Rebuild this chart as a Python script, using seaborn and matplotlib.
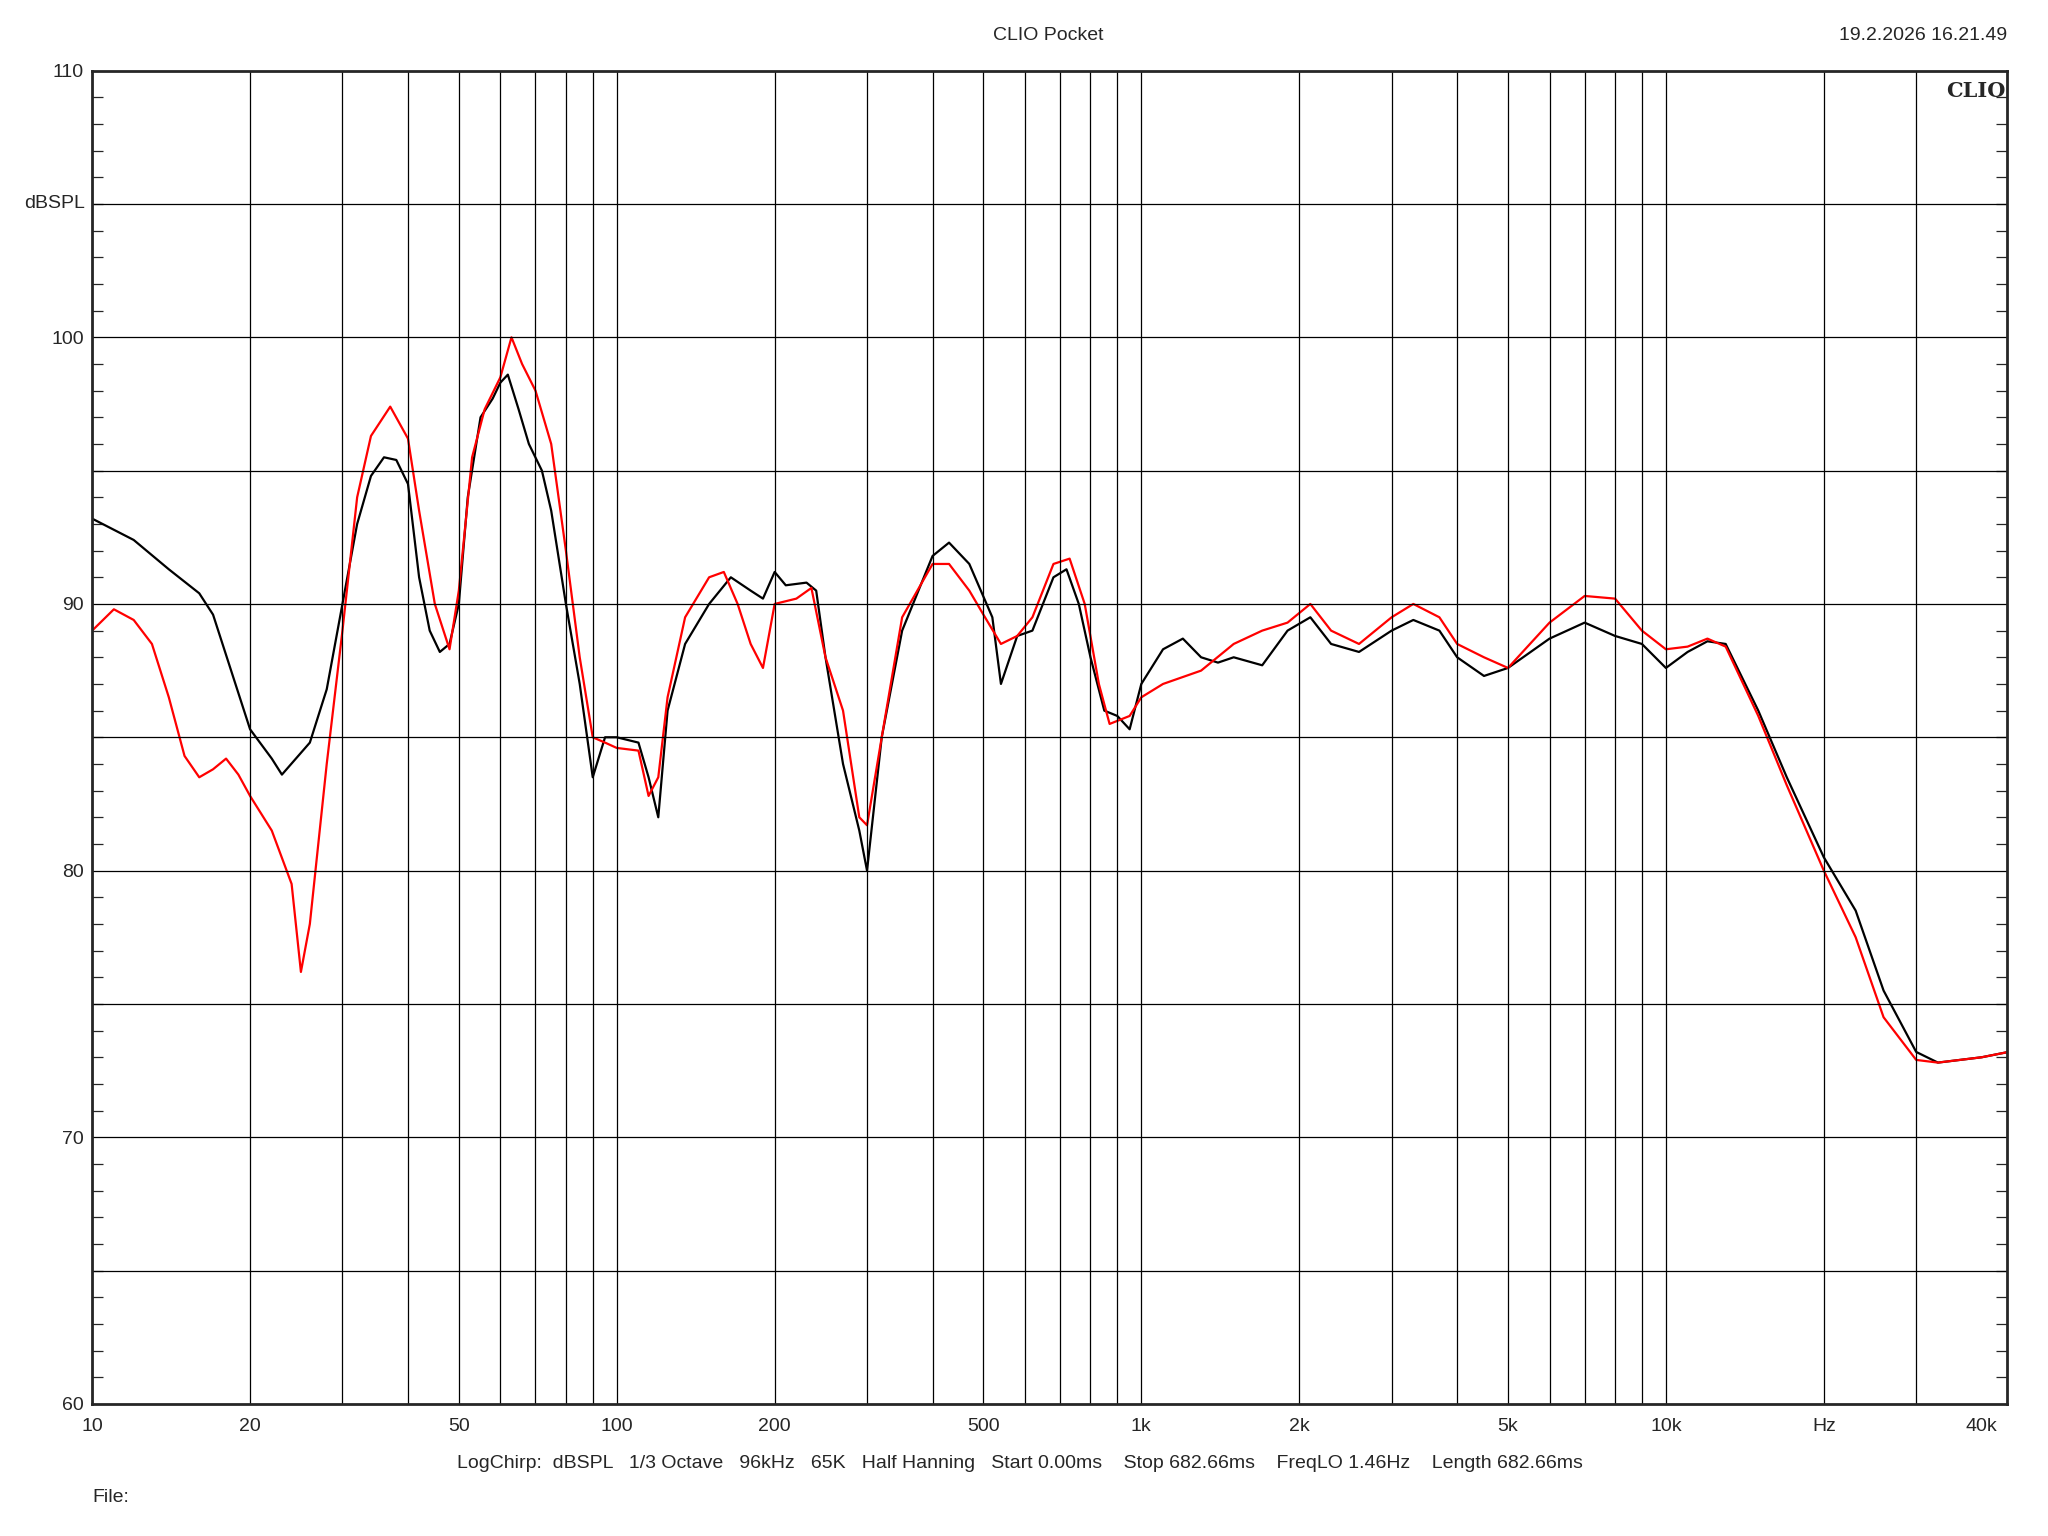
import numpy as np
import matplotlib.pyplot as plt
import seaborn as sns
from matplotlib.ticker import FixedLocator, NullFormatter, MultipleLocator

sns.set_style("white")
plt.rcParams['font.family'] = ['Arial', 'Liberation Sans', 'DejaVu Sans']

# frequency response readings (Hz, dBSPL)
black_f = [10, 12, 14, 16, 17, 20, 22, 23, 26, 28, 30, 32, 34, 36, 38, 40, 42, 44, 46, 48, 50, 52, 55, 58, 60, 62,
           65, 68, 72, 75, 80, 85, 90, 95, 100, 110, 115, 120, 125, 135, 150, 165, 180, 190, 200, 210, 230, 240,
           250, 270, 290, 300, 320, 350, 400, 430, 470, 520, 540, 580, 620, 680, 720, 760, 800, 850, 900, 950,
           1000, 1100, 1200, 1300, 1400, 1500, 1700, 1900, 2100, 2300, 2600, 3000, 3300, 3700, 4000, 4500, 5000,
           6000, 7000, 8000, 9000, 10000, 11000, 12000, 13000, 15000, 17000, 20000, 23000, 26000, 30000, 33000,
           40000, 45000]
black_db = [93.2, 92.4, 91.3, 90.4, 89.6, 85.3, 84.2, 83.6, 84.8, 86.8, 90.0, 93.0, 94.8, 95.5, 95.4, 94.5, 91.0,
            89.0, 88.2, 88.5, 90.0, 94.0, 97.0, 97.7, 98.3, 98.6, 97.3, 96.0, 95.0, 93.5, 90.0, 87.0, 83.5, 85.0,
            85.0, 84.8, 83.5, 82.0, 86.0, 88.5, 90.0, 91.0, 90.5, 90.2, 91.2, 90.7, 90.8, 90.5, 88.0, 84.0, 81.5,
            80.0, 85.0, 89.0, 91.8, 92.3, 91.5, 89.5, 87.0, 88.8, 89.0, 91.0, 91.3, 90.0, 88.0, 86.0, 85.8, 85.3,
            87.0, 88.3, 88.7, 88.0, 87.8, 88.0, 87.7, 89.0, 89.5, 88.5, 88.2, 89.0, 89.4, 89.0, 88.0, 87.3, 87.6,
            88.7, 89.3, 88.8, 88.5, 87.6, 88.2, 88.6, 88.5, 86.0, 83.5, 80.5, 78.5, 75.5, 73.2, 72.8, 73.0, 73.2]

red_f = [10, 11, 12, 13, 14, 15, 16, 17, 18, 19, 20, 22, 24, 25, 26, 28, 30, 32, 34, 37, 40, 42, 45, 48, 50, 53,
         56, 60, 63, 66, 70, 75, 80, 85, 90, 95, 100, 110, 115, 120, 125, 135, 150, 160, 170, 180, 190, 200, 220,
         235, 250, 270, 290, 300, 320, 350, 400, 430, 470, 500, 540, 580, 620, 680, 730, 780, 830, 870, 950, 1000,
         1100, 1300, 1500, 1700, 1900, 2100, 2300, 2600, 3000, 3300, 3700, 4000, 4500, 5000, 6000, 7000, 8000,
         9000, 10000, 11000, 12000, 13000, 15000, 17000, 20000, 23000, 26000, 30000, 33000, 40000, 45000]
red_db = [89.0, 89.8, 89.4, 88.5, 86.5, 84.3, 83.5, 83.8, 84.2, 83.6, 82.8, 81.5, 79.5, 76.2, 78.0, 84.0, 89.0,
          94.0, 96.3, 97.4, 96.2, 93.5, 90.0, 88.3, 90.5, 95.5, 97.3, 98.5, 100.0, 99.0, 98.0, 96.0, 92.0, 88.0,
          85.0, 84.8, 84.6, 84.5, 82.8, 83.5, 86.5, 89.5, 91.0, 91.2, 90.0, 88.5, 87.6, 90.0, 90.2, 90.6, 88.0,
          86.0, 82.0, 81.7, 85.0, 89.5, 91.5, 91.5, 90.5, 89.6, 88.5, 88.8, 89.5, 91.5, 91.7, 90.0, 87.0, 85.5,
          85.8, 86.5, 87.0, 87.5, 88.5, 89.0, 89.3, 90.0, 89.0, 88.5, 89.5, 90.0, 89.5, 88.5, 88.0, 87.6, 89.3,
          90.3, 90.2, 89.0, 88.3, 88.4, 88.7, 88.4, 85.8, 83.2, 80.0, 77.5, 74.5, 72.9, 72.8, 73.0, 73.2]

x_ticks = [10, 20, 50, 100, 200, 500, 1000, 2000, 5000, 10000, 20000, 40000]
x_labels = ['10', '20', '50', '100', '200', '500', '1k', '2k', '5k', '10k', 'Hz', '40k']
y_ticks = [60, 70, 80, 90, 100, 110]

fig = plt.figure(figsize=(20.48, 15.36), dpi=100)
ax = fig.add_axes([0.045, 0.086, 0.935, 0.868])

sns.lineplot(x=black_f, y=black_db, color='black', lw=1.6, ax=ax)
sns.lineplot(x=red_f, y=red_db, color='red', lw=1.6, ax=ax)

ax.set_xscale('log')
ax.set_xlim(10, 44700)
ax.set_ylim(60, 110)

grid_x = [m * 10 ** d for d in range(1, 5) for m in range(1, 10) if m * 10 ** d <= 30000]
ax.xaxis.set_major_locator(FixedLocator(x_ticks))
ax.set_xticklabels(x_labels)
ax.xaxis.set_minor_locator(FixedLocator(grid_x))
ax.xaxis.set_minor_formatter(NullFormatter())
ax.yaxis.set_major_locator(FixedLocator(y_ticks))
ax.yaxis.set_minor_locator(MultipleLocator(1))
for v in grid_x:
    ax.axvline(v, color='black', lw=0.9)
for v in range(65, 110, 5):
    ax.axhline(v, color='black', lw=0.9)

ax.tick_params(axis='x', which='both', length=0, labelsize=14, pad=10)
ax.tick_params(axis='y', which='major', length=0, labelsize=14, pad=6)
ax.tick_params(axis='y', which='minor', direction='in', length=8, left=True, right=True, width=0.9)
for s in ax.spines.values():
    s.set_linewidth(2)
ax.set_xlabel('')
ax.set_ylabel('')

ax.text(-0.004, 105, 'dBSPL', transform=ax.get_yaxis_transform(), fontsize=14, ha='right', va='center')
fig.text(0.512, 0.977, 'CLIO Pocket', fontsize=14, ha='center', va='center')
fig.text(0.980, 0.977, '19.2.2026 16.21.49', fontsize=14, ha='right', va='center')
ax.text(0.999, 0.992, 'CLIO', transform=ax.transAxes, fontsize=15, fontweight='bold',
        family='DejaVu Serif', ha='right', va='top')
fig.text(0.498, 0.047, 'LogChirp:  dBSPL   1/3 Octave   96kHz   65K   Half Hanning   Start 0.00ms    '
         'Stop 682.66ms    FreqLO 1.46Hz    Length 682.66ms', fontsize=14, ha='center', va='center')
fig.text(0.045, 0.025, 'File:', fontsize=14, ha='left', va='center')

fig.savefig('out.png', dpi=100)
